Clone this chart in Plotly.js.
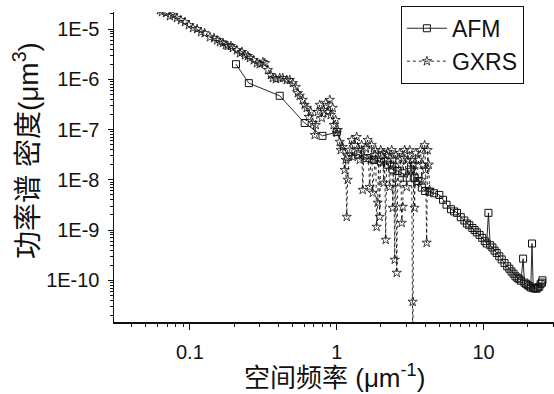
<!DOCTYPE html>
<html>
<head>
<meta charset="utf-8">
<script src="https://cdn.plot.ly/plotly-3.0.1.min.js"></script>
<style>
html,body{margin:0;padding:0;background:#fff;}
#chart{width:554px;height:394px;}
</style>
</head>
<body>
<div id="chart"></div>
<script>
// ---- data ----
const afmX = [0.206, 0.252, 0.409, 0.605, 0.80, 1.0, 1.2, 1.4, 1.6, 1.8, 2.0, 2.2, 2.4, 2.6, 2.8, 3.0, 3.2, 3.4, 3.6, 3.8,
  4.0, 4.3, 4.6, 5.0, 5.3, 5.6, 6.0, 6.3, 6.6, 7.0, 7.4, 7.7, 8.0, 8.4, 8.7, 9.0, 9.4, 9.8, 10.2, 10.5, 10.8, 11.1,
  11.5, 11.9, 12.3, 12.8, 13.3, 13.9, 14.5, 15.0, 15.5, 16.0, 16.5, 17.0, 17.5, 18.0, 18.6, 19.0, 19.5, 20.0, 20.5,
  21.0, 21.4, 21.8, 22.2, 22.6, 23.0, 23.5, 24.0, 24.5, 25.0, 25.2];
const afmY = [2.0e-6, 8.4e-7, 4.7e-7, 1.35e-7, 7.5e-8, 8.9e-8, 2.9e-8, 3.2e-8, 2.7e-8, 2.5e-8, 2.3e-8, 2.0e-8, 1.6e-8,
  1.5e-8, 1.35e-8, 1.1e-8, 1.6e-8, 1.1e-8, 9.5e-9, 7.0e-9,
  6.0e-9, 5.8e-9, 5.4e-9, 5.0e-9, 4.0e-9, 3.2e-9, 2.6e-9, 2.35e-9, 2.2e-9, 1.8e-9, 1.55e-9, 1.35e-9, 1.25e-9, 1.1e-9,
  1.0e-9, 9.0e-10, 8.0e-10, 7.0e-10, 6.0e-10, 5.4e-10, 2.2e-9, 5.0e-10,
  4.5e-10, 3.9e-10, 3.5e-10, 3.0e-10, 2.6e-10, 2.2e-10, 1.9e-10, 1.7e-10, 1.5e-10, 1.35e-10, 1.2e-10, 1.12e-10,
  1.05e-10, 9.8e-11, 2.7e-10, 9.0e-11, 8.5e-11, 8.0e-11, 7.6e-11,
  7.2e-11, 5.4e-10, 7.0e-11, 6.9e-11, 7.0e-11, 6.8e-11, 7.2e-11, 7.5e-11, 8.5e-11, 9.0e-11, 1.0e-10];

const gxrsX = [0.0625, 0.0645, 0.0687, 0.0731, 0.0766, 0.0816, 0.0869, 0.0925, 0.0985, 0.105, 0.112, 0.119, 0.126,
  0.137, 0.146, 0.153, 0.160, 0.168, 0.176, 0.181, 0.190, 0.196, 0.209, 0.219, 0.226, 0.237, 0.248, 0.256, 0.272,
  0.286, 0.299, 0.314, 0.324, 0.340, 0.356, 0.367, 0.385, 0.409, 0.429, 0.457, 0.479, 0.502, 0.526, 0.543, 0.560,
  0.587, 0.605,
  0.625, 0.645, 0.666, 0.687, 0.708, 0.720, 0.743, 0.766, 0.791, 0.816, 0.842, 0.869, 0.897, 0.910, 0.939, 0.954,
  0.984, 1.0,
  1.016, 1.048, 1.065, 1.098, 1.133, 1.151, 1.170, 1.188, 1.226, 1.265, 1.285, 1.326, 1.368, 1.412, 1.434, 1.479,
  1.503, 1.527, 1.575, 1.625, 1.676, 1.703, 1.730, 1.758, 1.814, 1.842, 1.871, 1.901, 1.931, 1.962, 1.993, 2.056,
  2.089, 2.122, 2.156, 2.190, 2.225, 2.296, 2.332, 2.369, 2.407, 2.445, 2.484, 2.523, 2.563, 2.604, 2.686, 2.729,
  2.772, 2.816, 2.861, 2.906, 2.999, 3.046, 3.143, 3.193, 3.24, 3.29, 3.30, 3.34, 3.39, 3.45, 3.50, 3.61, 3.73,
  3.79, 3.85, 3.97, 4.03, 4.10, 4.16, 4.23, 4.29];
const gxrsY = [2.39e-5, 2.18e-5, 2.08e-5, 1.81e-5, 1.90e-5, 1.66e-5, 1.51e-5, 1.38e-5, 1.20e-5, 1.05e-5, 1.0e-5, 8.7e-6,
  8.3e-6, 6.9e-6, 6.6e-6, 6.0e-6, 5.5e-6, 5.3e-6, 4.8e-6, 4.6e-6, 4.6e-6, 4.2e-6, 3.8e-6, 3.3e-6, 3.5e-6, 3.0e-6,
  2.9e-6, 2.65e-6, 2.4e-6, 2.1e-6, 2.0e-6, 2.2e-6, 2.1e-6, 1.53e-6, 1.22e-6, 1.06e-6, 1.01e-6, 1.06e-6, 1.06e-6,
  9.7e-7, 9.7e-7, 8.4e-7, 7.0e-7, 5.3e-7, 4.7e-7, 3.9e-7, 3.1e-7,
  2.7e-7, 1.78e-7, 2.24e-7, 1.35e-7, 7.8e-8, 1.23e-7, 2.24e-7, 3.1e-7, 1.7e-7, 2.45e-7, 3.4e-7, 2.24e-7, 3.9e-7,
  1.95e-7, 2.7e-7, 1.23e-7, 1.55e-7, 8.6e-8,
  9.8e-8, 5.7e-8, 3.9e-8, 4.5e-8, 1.57e-8, 2.5e-8, 1.83e-9, 1.0e-8, 3.9e-8, 6.2e-8, 2.85e-8, 4.9e-8, 7.1e-8, 3.9e-8,
  2.5e-8, 4.9e-8, 6.3e-9, 2.85e-8, 4.3e-8, 6.2e-8, 7.2e-9, 2.5e-8, 4.9e-8, 5.5e-9, 3.1e-8, 3.9e-8, 1.16e-9, 3.5e-9,
  2.5e-8, 1.83e-9, 3.9e-8, 3.4e-8, 8.7e-9, 2.5e-8, 6.4e-10, 3.1e-8, 3.6e-8, 7.2e-9, 2.0e-8, 3.9e-8, 2.76e-9, 2.5e-8,
  2.56e-10, 3.1e-8, 1.41e-10, 8.7e-9, 3.4e-8, 2.0e-8, 1.39e-9, 2.9e-9, 2.7e-8, 3.9e-8, 7.2e-9, 2.5e-8, 3.9e-8, 1.57e-8,
  2.5e-8, 3.74e-11, 1e-12, 2.0e-8, 2.76e-9, 3.4e-8, 8.7e-9, 2.5e-8, 3.9e-8, 1.0e-8, 2.0e-8, 4.9e-8, 1.57e-8, 5.6e-10,
  3.9e-8, 2.0e-8, 6.3e-9];

const xTickVals = [0.1, 1, 10];
const xTickText = ['0.1', '1', '10'];
const yTickVals = [1e-10, 1e-9, 1e-8, 1e-7, 1e-6, 1e-5];
const yTickText = ['1E-10', '1E-9', '1E-8', '1E-7', '1E-6', '1E-5'];

// minor tick positions (2..9 within each decade)
function minorTicks(lo, hi) {
  const out = [];
  for (let e = lo; e <= hi; e++) {
    for (let m = 2; m <= 9; m++) out.push(m * Math.pow(10, e));
  }
  return out;
}

const FONT = 'Liberation Sans, Arial, Noto Sans CJK SC, sans-serif';
const INK = '#111';

const traces = [
  {
    x: afmX, y: afmY, name: 'AFM', type: 'scatter', mode: 'lines+markers',
    line: {color: INK, width: 0.9, dash: 'solid'},
    marker: {symbol: 'square-open', size: 7, color: INK, line: {width: 1, color: INK}}
  },
  {
    x: gxrsX, y: gxrsY, name: 'GXRS', type: 'scatter', mode: 'lines+markers',
    line: {color: INK, width: 0.9, dash: 'dot'},
    marker: {symbol: 'star-open', size: 7, color: INK, line: {width: 0.8, color: INK}}
  }
];

const layout = {
  width: 554, height: 394,
  margin: {l: 114, r: 0, t: 12, b: 72, pad: 0},
  paper_bgcolor: '#fff', plot_bgcolor: '#fff',
  font: {family: FONT, color: INK, size: 20},
  showlegend: true,
  legend: {
    x: 0.652, y: 1.02, xanchor: 'left', yanchor: 'top',
    bgcolor: '#fff', bordercolor: INK, borderwidth: 1,
    font: {family: FONT, size: 23, color: INK},
    itemwidth: 40, tracegroupgap: 0
  },
  xaxis: {
    type: 'log', range: [-1.517, 1.48],
    showgrid: false, zeroline: false,
    showline: true, linecolor: INK, linewidth: 1.5, mirror: false,
    tickmode: 'array', tickvals: xTickVals, ticktext: xTickText,
    ticks: 'outside', ticklen: 6, tickwidth: 1, tickcolor: INK,
    ticklabelstandoff: 5,
    tickfont: {family: FONT, size: 20, color: INK},
    minor: {tickmode: 'array', tickvals: minorTicks(-2, 1), ticks: 'outside', ticklen: 3, tickwidth: 1, tickcolor: INK, showgrid: false}
  },
  yaxis: {
    type: 'log', range: [-10.83, -4.66],
    showgrid: false, zeroline: false,
    showline: true, linecolor: INK, linewidth: 1.5, mirror: false,
    tickmode: 'array', tickvals: yTickVals, ticktext: yTickText,
    ticks: 'outside', ticklen: 5, tickwidth: 1, tickcolor: INK,
    ticklabelstandoff: 4,
    tickfont: {family: FONT, size: 20, color: INK},
    minor: {tickmode: 'array', tickvals: minorTicks(-11, -5), ticks: 'outside', ticklen: 3, tickwidth: 1, tickcolor: INK, showgrid: false}
  },
  annotations: [
    {
      text: '空间频率 (μm<sup>-1</sup>)', xref: 'paper', yref: 'paper',
      x: 0.5, y: -0.177, xanchor: 'center', yanchor: 'middle', showarrow: false,
      font: {family: FONT, size: 26, color: INK}
    },
    {
      text: '功率谱 密度(μm<sup>3</sup>)', xref: 'paper', yref: 'paper',
      x: -0.2, y: 0.552, xanchor: 'center', yanchor: 'middle', showarrow: false,
      textangle: -90,
      font: {family: FONT, size: 28, color: INK}
    }
  ]
};

Plotly.newPlot('chart', traces, layout, {displayModeBar: false, staticPlot: true});
</script>
</body>
</html>
